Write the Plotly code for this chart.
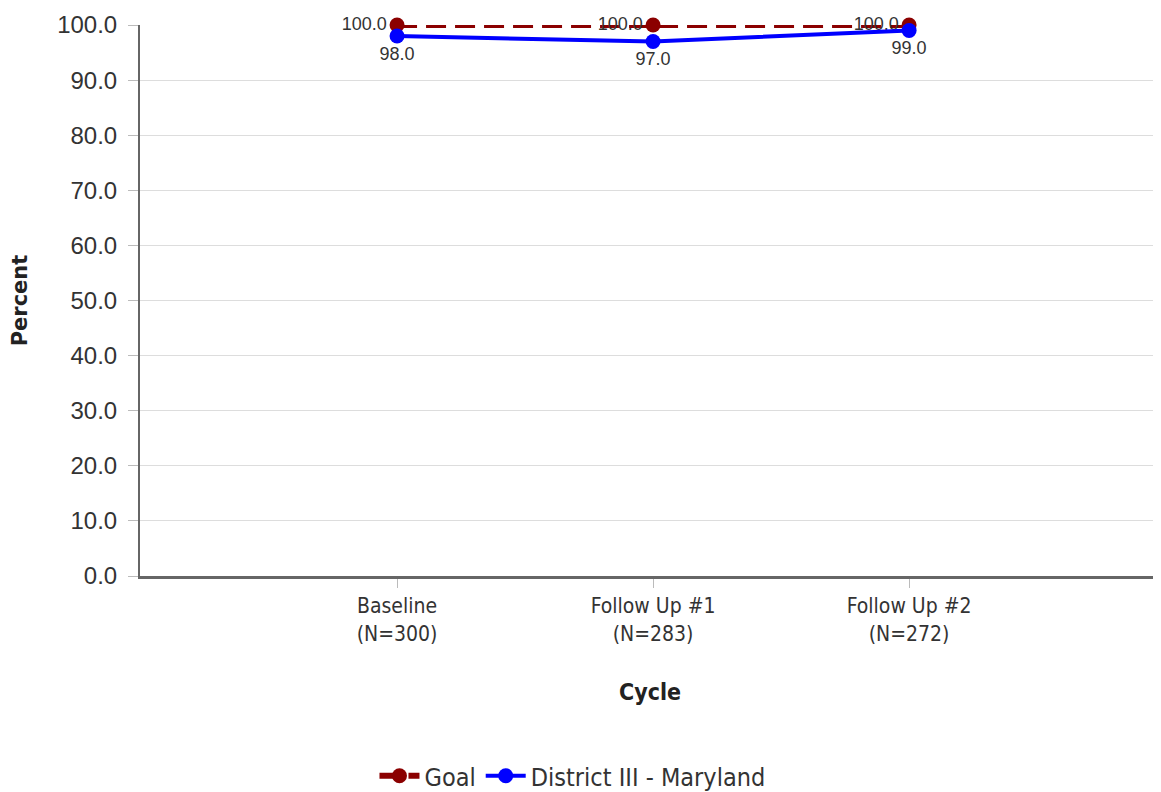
import plotly.graph_objects as go

categories = ["Baseline<br>(N=300)", "Follow Up #1<br>(N=283)", "Follow Up #2<br>(N=272)"]
goal = [100.0, 100.0, 100.0]
district = [98.0, 97.0, 99.0]
y_ticks = [0, 10, 20, 30, 40, 50, 60, 70, 80, 90, 100]

xpos = list(range(len(categories)))
NARROW = "Liberation Sans Narrow, Arial Narrow, DejaVu Sans Condensed, sans-serif"
REG = "Liberation Sans, Arial, sans-serif"

fig = go.Figure()
fig.add_trace(go.Scatter(
    x=xpos, y=goal, name="Goal", mode="lines+markers+text",
    line=dict(color="#8B0000", width=6, dash="20px,9px"),
    marker=dict(color="#8B0000", size=15),
    text=[f"{v:.1f}" for v in goal], textposition="middle left",
    textfont=dict(family=REG, size=18, color="#333333"),
    cliponaxis=False,
))
fig.add_trace(go.Scatter(
    x=xpos, y=district, name="District III - Maryland", mode="lines+markers+text",
    line=dict(color="#0000FF", width=4),
    marker=dict(color="#0000FF", size=15),
    text=[f"{v:.1f}" for v in district], textposition="bottom center",
    textfont=dict(family=REG, size=18, color="#333333"),
    cliponaxis=False,
))

fig.update_layout(
    width=1153, height=784,
    margin=dict(l=132, r=1, t=17, b=216, autoexpand=False),
    plot_bgcolor="white", paper_bgcolor="white",
    showlegend=True,
    legend=dict(orientation="h", x=0.424, xanchor="center", y=-0.363, yanchor="middle",
                font=dict(family=NARROW, size=25, color="#333333"),
                itemwidth=40),
    font=dict(family=REG, color="#333333"),
)
fig.update_xaxes(
    range=[-1.004, 2.98], tickmode="array", tickvals=xpos, ticktext=categories,
    tickfont=dict(family=NARROW, size=21, color="#333333"),
    showline=True, linecolor="#666666", linewidth=3, showgrid=False, zeroline=False,
    ticks="outside", ticklen=9, tickcolor="#bbbbbb", automargin=False,
    title=dict(text="<b>Cycle</b>", font=dict(family=NARROW, size=23, color="#222222"), standoff=40),
)
fig.update_yaxes(
    range=[0, 100], tickmode="array", tickvals=y_ticks, ticktext=[f"{v:.1f}" for v in y_ticks],
    tickfont=dict(family=REG, size=24, color="#333333"),
    showline=True, linecolor="#666666", linewidth=2, showgrid=True, gridcolor="#dddddd", gridwidth=1,
    zeroline=False, ticks="outside", ticklen=10, tickcolor="#bbbbbb", automargin=False,
    ticklabelstandoff=6,
    title=dict(text="<b>Percent</b>", font=dict(family="DejaVu Sans, sans-serif", size=21, color="#222222"), standoff=24),
)
fig.write_html("out.html")
